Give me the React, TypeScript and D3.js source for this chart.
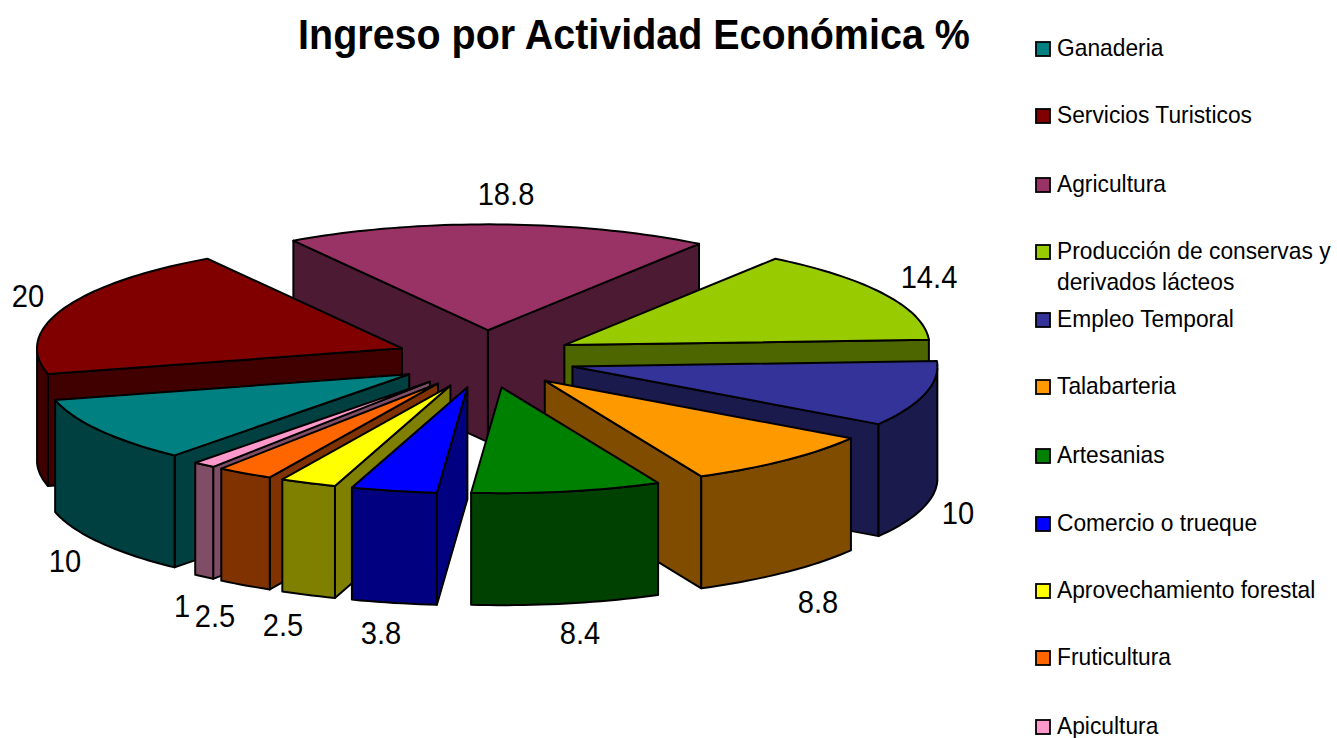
import React from "react";
import * as d3 from "d3";

const categories = ["Ganaderia","Servicios Turisticos","Agricultura","Producción de conservas y derivados lácteos","Empleo Temporal","Talabarteria","Artesanias","Comercio o trueque","Aprovechamiento forestal","Fruticultura","Apicultura"];
const values = [10,20,18.8,14.4,10,8.8,8.4,3.8,2.5,2.5,1];
const topColors = ["#008080","#800000","#993366","#99CC00","#333399","#FF9900","#008000","#0000FF","#FFFF00","#FF6600","#FF99CC"];
const sideColors = ["#004040","#400000","#4D1A33","#4D6600","#1A1A4D","#804D00","#004000","#000080","#808000","#803300","#804D66"];
const legendLines = [["Ganaderia"],["Servicios Turisticos"],["Agricultura"],["Producción de conservas y","derivados lácteos"],["Empleo Temporal"],["Talabarteria"],["Artesanias"],["Comercio o trueque"],["Aprovechamiento forestal"],["Fruticultura"],["Apicultura"]];

const W = 1337, H = 738;
const CX = 485.5, CY = 359, R = 365, TILT = 0.29, EXPLODE_TILT = 0.32, DEPTH = 112, EXPLODE = 90;
const START = (220 * Math.PI) / 180;
const labelPos: [number, number][] = [[65,560],[28,295],[506,193],[929,276],[958,512],[818,601],[580,632],[381,632.5],[283,624],[215,615],[182,605.5]];
const legendY = [49,116,185,252,320,387,456,524,591,658,727];

const pie = d3.pie<number>().sort(null).startAngle(START).endAngle(START + 2 * Math.PI);
const arcs = pie(values);
const line = d3.line<[number, number]>();

function geometry(a: d3.PieArcDatum<number>, i: number) {
  const mid = (a.startAngle + a.endAngle) / 2;
  const ox = CX + EXPLODE * Math.sin(mid);
  const oy = CY - EXPLODE * EXPLODE_TILT * Math.cos(mid);
  const pt = (th: number, r: number, z: number): [number, number] => [
    ox + r * Math.sin(th),
    oy - r * TILT * Math.cos(th) + z,
  ];
  const N = Math.max(4, Math.ceil((a.endAngle - a.startAngle) * 40));
  const angles = d3.range(N + 1).map((k) => a.startAngle + ((a.endAngle - a.startAngle) * k) / N);
  const top = line([pt(0, 0, 0), ...angles.map((t) => pt(t, R, 0))])! + "Z";
  const quad = (t: number) => line([pt(0, 0, 0), pt(t, R, 0), pt(t, R, DEPTH), pt(0, 0, DEPTH)])! + "Z";
  // Faces turned to the viewer only
  const faces: string[] = [];
  const norm = (t: number) => Math.cos(t);
  if (norm(a.startAngle - Math.PI / 2) < 0) faces.push(quad(a.startAngle));
  if (norm(a.endAngle + Math.PI / 2) < 0) faces.push(quad(a.endAngle));
  const vis = angles.filter((t) => Math.cos(t) <= 0);
  if (vis.length > 1) {
    faces.push(line([...vis.map((t) => pt(t, R, 0)), ...vis.slice().reverse().map((t) => pt(t, R, DEPTH))])! + "Z");
  }
  return { i, top, faces, tipY: oy };
}

const slices = arcs.map(geometry).sort((p, q) => p.tipY - q.tipY);

export default function App() {
  return (
    <svg width={W} height={H} viewBox={`0 0 ${W} ${H}`} style={{ position: "absolute", left: 0, top: 0, background: "#fff" }} fontFamily="'Liberation Sans', Arial, sans-serif">
      <text transform="translate(634,49) scale(0.918,1)" textAnchor="middle" fontSize={43} fontWeight="bold" fill="#000">Ingreso por Actividad Económica %</text>
      {slices.map((s) => (
        <g key={s.i} stroke="#000" strokeWidth={2} strokeLinejoin="round">
          {s.faces.map((d, j) => <path key={j} d={d} fill={sideColors[s.i]} />)}
          <path d={s.top} fill={topColors[s.i]} />
        </g>
      ))}
      {values.map((v, i) => (
        <text key={i} transform={`translate(${labelPos[i][0]},${labelPos[i][1] + 11.5}) scale(0.91,1)`} textAnchor="middle" fontSize={32} fill="#000">{v}</text>
      ))}
      {categories.map((c, i) => (
        <g key={c}>
          <rect x={1036} y={legendY[i] - 7} width={14} height={14} fill={topColors[i]} stroke="#000" strokeWidth={1.8} />
          {legendLines[i].map((t, j) => (
            <text key={j} transform={`translate(1057,${legendY[i] + 7 + j * 31}) scale(0.95,1)`} fontSize={24} fill="#000">{t}</text>
          ))}
        </g>
      ))}
    </svg>
  );
}
